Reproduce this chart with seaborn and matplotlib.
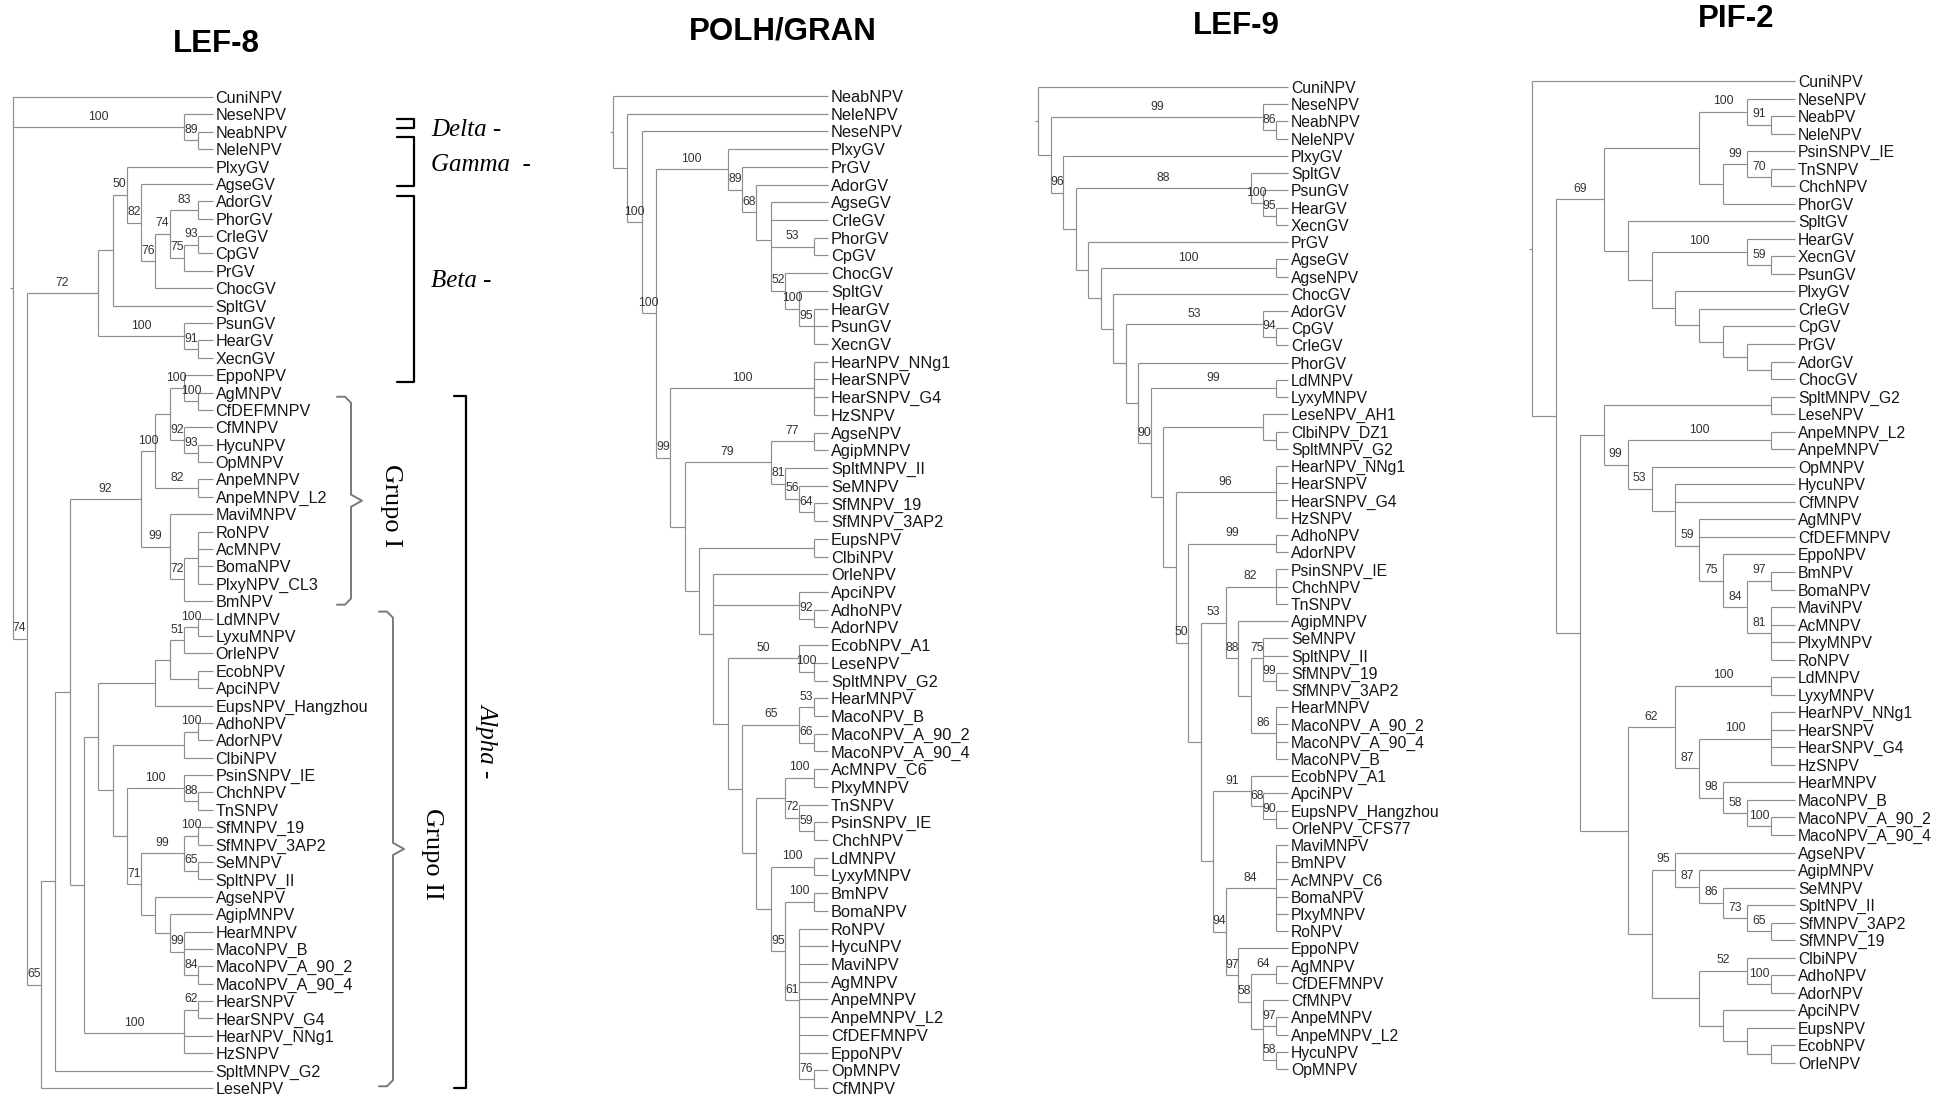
# %%
import matplotlib
matplotlib.use("Agg")
import matplotlib.pyplot as plt
from matplotlib import font_manager
import seaborn as sns
import numpy as np

# %%
# Tree topologies as Newick strings, bootstrap support written as internal node labels
lef8_delta = "(NeseNPV,(NeabNPV,NeleNPV)89)100"
lef8_beta = ("(((PlxyGV,(AgseGV,(((AdorGV,PhorGV)83,((CrleGV,CpGV)93,PrGV)75)74,ChocGV)76)82)50,SpltGV),"
             "(PsunGV,(HearGV,XecnGV)91)100)72")
lef8_grupo1 = ("((((EppoNPV,(AgMNPV,CfDEFMNPV)100)100,(CfMNPV,(HycuNPV,OpMNPV)93)92),(AnpeMNPV,AnpeMNPV_L2)82)100,"
               "(MaviMNPV,((RoNPV,AcMNPV,BomaNPV,PlxyNPV_CL3),BmNPV)72)99)92")
lef8_grupo2 = ("((((((LdMNPV,LyxuMNPV)100,OrleNPV)51,(EcobNPV,ApciNPV)),EupsNPV_Hangzhou),"
               "(((AdhoNPV,AdorNPV)100,ClbiNPV),((PsinSNPV_IE,(ChchNPV,TnSNPV)88)100,"
               "(((SfMNPV_19,SfMNPV_3AP2)100,(SeMNPV,SpltNPV_II)65)99,"
               "(AgseNPV,(AgipMNPV,(HearMNPV,MacoNPV_B,(MacoNPV_A_90_2,MacoNPV_A_90_4)84)99)))71))),"
               "((HearSNPV,HearSNPV_G4)62,HearNPV_NNg1,HzSNPV)100)")
lef8_tree = (f"(CuniNPV,{lef8_delta},({lef8_beta},"
             f"((({lef8_grupo1},{lef8_grupo2}),SpltMNPV_G2),LeseNPV)65)74);")

polh_gv = ("(PlxyGV,(PrGV,(AdorGV,(AgseGV,CrleGV,(PhorGV,CpGV)53,"
           "(ChocGV,(SpltGV,(HearGV,PsunGV,XecnGV)95)100)52))68)89)100")
polh_npv = ("((HearNPV_NNg1,HearSNPV,HearSNPV_G4,HzSNPV)100,"
            "(((AgseNPV,AgipMNPV)77,(SpltMNPV_II,(SeMNPV,(SfMNPV_19,SfMNPV_3AP2)64)56)81)79,"
            "((EupsNPV,ClbiNPV),(OrleNPV,(ApciNPV,(AdhoNPV,AdorNPV)92),"
            "((EcobNPV_A1,(LeseNPV,SpltMNPV_G2)100)50,"
            "(((HearMNPV,MacoNPV_B)53,(MacoNPV_A_90_2,MacoNPV_A_90_4)66)65,"
            "(((AcMNPV_C6,PlxyMNPV)100,(TnSNPV,(PsinSNPV_IE,ChchNPV)59)72),"
            "((LdMNPV,LyxyMNPV)100,((BmNPV,BomaNPV)100,"
            "(RoNPV,HycuNPV,MaviNPV,AgMNPV,AnpeMNPV,AnpeMNPV_L2,CfDEFMNPV,EppoNPV,(OpMNPV,CfMNPV)76)61)95))))))))99")
polh_tree = f"(NeabNPV,(NeleNPV,(NeseNPV,({polh_gv},{polh_npv})100)100));"

lef9_gv = ("(PlxyGV,((SpltGV,(PsunGV,(HearGV,XecnGV)95)100)88,(PrGV,((AgseGV,AgseNPV)100,"
           "(ChocGV,((AdorGV,(CpGV,CrleGV)94)53,(PhorGV,NPV_CLADE)))))))96")
lef9_npv = ("((LdMNPV,LyxyMNPV)99,((LeseNPV_AH1,(ClbiNPV_DZ1,SpltMNPV_G2)),"
            "((HearNPV_NNg1,HearSNPV,HearSNPV_G4,HzSNPV)96,((AdhoNPV,AdorNPV)99,"
            "(((PsinSNPV_IE,ChchNPV,TnSNPV)82,(AgipMNPV,((SeMNPV,SpltNPV_II,(SfMNPV_19,SfMNPV_3AP2)99)75,"
            "(HearMNPV,MacoNPV_A_90_2,MacoNPV_A_90_4,MacoNPV_B)86))88)53,"
            "((EcobNPV_A1,(ApciNPV,(EupsNPV_Hangzhou,OrleNPV_CFS77)90)68)91,"
            "((MaviMNPV,BmNPV,AcMNPV_C6,BomaNPV,PlxyMNPV,RoNPV)84,(EppoNPV,((AgMNPV,CfDEFMNPV)64,"
            "(CfMNPV,(AnpeMNPV,AnpeMNPV_L2)97,(HycuNPV,OpMNPV)58))58)97)94)))50)))90")
lef9_tree = "(CuniNPV,((NeseNPV,(NeabNPV,NeleNPV)86)99," + lef9_gv.replace("NPV_CLADE", lef9_npv) + "));"

pif2_upper = ("(((NeseNPV,(NeabPV,NeleNPV)91)100,((PsinSNPV_IE,(TnSNPV,ChchNPV)70)99,PhorGV)),"
              "(SpltGV,((HearGV,(XecnGV,PsunGV)59)100,(PlxyGV,(CrleGV,(CpGV,(PrGV,(AdorGV,ChocGV))))))))69")
pif2_group1 = ("((SpltMNPV_G2,LeseNPV),((AnpeMNPV_L2,AnpeMNPV)100,(OpMNPV,(HycuNPV,CfMNPV,"
               "(AgMNPV,CfDEFMNPV,(EppoNPV,((BmNPV,BomaNPV)97,(MaviNPV,AcMNPV,PlxyMNPV,RoNPV)81)84)75)59))53)99)")
pif2_group2 = ("(((LdMNPV,LyxyMNPV)100,((HearNPV_NNg1,HearSNPV,HearSNPV_G4,HzSNPV)100,"
               "(HearMNPV,(MacoNPV_B,(MacoNPV_A_90_2,MacoNPV_A_90_4)100)58)98)87)62,"
               "((AgseNPV,(AgipMNPV,(SeMNPV,(SpltNPV_II,(SfMNPV_3AP2,SfMNPV_19)65)73)86)87)95,"
               "((ClbiNPV,(AdhoNPV,AdorNPV)100)52,(ApciNPV,(EupsNPV,(EcobNPV,OrleNPV))))))")
pif2_tree = f"(CuniNPV,({pif2_upper},({pif2_group1},{pif2_group2})));"

titles = ["LEF-8", "POLH/GRAN", "LEF-9", "PIF-2"]
trees = [lef8_tree, polh_tree, lef9_tree, pif2_tree]

# clade annotations on the LEF-8 tree (label, first leaf row, last leaf row, label row)
clade_brackets = [("Delta -", 1.27, 1.78, 1.75), ("Gamma  -", 2.28, 5.12, 3.75),
                  ("Beta -", 5.69, 16.4, 10.45), ("Alpha -", 17.2, 57.0, 37.0)]
group_braces = [("Grupo I", 17.24, 29.2), ("Grupo II", 29.6, 56.9)]

# %%
# page layout (pixels of the 1950x1096 output)
W, H = 1950, 1096
panels = [
    dict(x_root=12.5, x_tip=212.5, y_first=97, y_last=1088, fs=11.6, title_xy=(216, 44)),
    dict(x_root=613, x_tip=828, y_first=96, y_last=1088, fs=11.8, title_xy=(783, 31)),
    dict(x_root=1038, x_tip=1288, y_first=87, y_last=1069, fs=11.3, title_xy=(1236, 26)),
    dict(x_root=1532, x_tip=1795, y_first=81, y_last=1063, fs=11.3, title_xy=(1736, 19)),
]
LINE = "#8e8e8e"
TEXT = "#161616"


def parse_newick(text):
    text = text.strip().rstrip(";")
    pos = 0

    def read_label():
        nonlocal pos
        start = pos
        while pos < len(text) and text[pos] not in ",()":
            pos += 1
        return text[start:pos].strip()

    def read_node():
        nonlocal pos
        if text[pos] == "(":
            pos += 1
            kids = [read_node()]
            while text[pos] == ",":
                pos += 1
                kids.append(read_node())
            assert text[pos] == ")", text[pos:pos + 30]
            pos += 1
            return {"kids": kids, "support": read_label()}
        return {"name": read_label()}

    tree = read_node()
    assert pos == len(text), text[pos:]
    return tree


def set_heights(node):
    if "kids" in node:
        node["h"] = max(set_heights(k) for k in node["kids"]) + 1
    else:
        node["h"] = 0
    return node["h"]


def place(node, depth, leaves):
    # cladogram: x = depth - height, y = mean of children rows
    node["x"] = depth - node["h"]
    if "kids" in node:
        for k in node["kids"]:
            place(k, depth, leaves)
        node["y"] = np.mean([k["y"] for k in node["kids"]])
    else:
        node["y"] = len(leaves)
        leaves.append(node)


def draw_tree(ax, node, parent_x=None):
    if "kids" not in node:
        return
    ys = [k["y"] for k in node["kids"]]
    ax.vlines(node["x"], min(ys), max(ys), color=LINE, lw=0.85)
    for k in node["kids"]:
        ax.hlines(k["y"], node["x"], k["x"], color=LINE, lw=0.85)
        draw_tree(ax, k, node["x"])
    if node["support"] and parent_x is not None:
        ax.text((parent_x + node["x"]) / 2, node["y"] - 0.6, node["support"],
                ha="center", va="center", fontsize=8.7, color="#333333")


# %%
sns.set_theme(style="white")
plt.rcParams["font.family"] = ["Liberation Sans", "DejaVu Sans"]

available = {f.name for f in font_manager.fontManager.ttflist}
if "Liberation Sans Narrow" in available:
    title_font = dict(family=["Liberation Sans Narrow", "DejaVu Sans"], fontsize=28)
else:
    title_font = dict(family=["Liberation Sans", "DejaVu Sans"], fontsize=22.5)

fig = plt.figure(figsize=(W / 100, H / 100), dpi=100)
fig.patch.set_facecolor("white")

tree_axes = []
for i, (newick, title, lay) in enumerate(zip(trees, titles, panels)):
    root = parse_newick(newick)
    depth = set_heights(root)
    leaves = []
    place(root, depth, leaves)
    n = len(leaves)

    ax = fig.add_axes([0, 0, 1, 1], label=f"tree{i}")
    ax.set_axis_off()
    ax.patch.set_alpha(0)
    sx = (lay["x_tip"] - lay["x_root"]) / depth
    sy = (lay["y_last"] - lay["y_first"]) / (n - 1)
    ax.set_xlim(-lay["x_root"] / sx, (W - lay["x_root"]) / sx)
    ax.set_ylim((H - lay["y_first"]) / sy, -lay["y_first"] / sy)

    draw_tree(ax, root)
    ax.hlines(root["y"], -3 / sx, 0, color=LINE, lw=0.85)
    for leaf in leaves:
        ax.text(depth + 3 / sx, leaf["y"], leaf["name"], ha="left", va="center_baseline",
                fontsize=lay["fs"], color=TEXT)

    tx, ty = lay["title_xy"]
    fig.text(tx / W, 1 - ty / H, title, ha="center", va="center",
             fontweight="bold", color="black", **title_font)
    tree_axes.append((ax, lay, sx))

# %%
# brackets beside the LEF-8 tree
ax, lay, sx = tree_axes[0]


def lv(px):
    return (px - lay["x_root"]) / sx


serif = ["Liberation Serif", "DejaVu Serif"]
for label, top, bottom, row in clade_brackets:
    if label.startswith("Alpha"):
        x0, x1, tx = 454, 466, 487
        ax.plot([lv(x0), lv(x1), lv(x1), lv(x0)], [top, top, bottom, bottom], color="black", lw=1.6)
        ax.text(lv(tx), row, label, rotation=270, ha="center", va="center",
                family=serif, style="italic", fontsize=18, color="black")
    else:
        x0, x1, tx = 397, 414, 431
        ax.plot([lv(x0), lv(x1), lv(x1), lv(x0)], [top, top, bottom, bottom], color="black", lw=1.6)
        ax.text(lv(tx), row, label, ha="left", va="center_baseline", family=serif,
                style="italic", fontsize=18, color="black")

brace_x = {"Grupo I": (337, 351, 362, 391), "Grupo II": (379, 393, 404, 432)}
for label, top, bottom in group_braces:
    x0, x1, xt, tx = brace_x[label]
    mid = (top + bottom) / 2
    e = 0.35
    xs = [x0, x0 + 8, x1, x1, xt, x1, x1, x0 + 8, x0]
    ys = [top, top, top + e, mid - e, mid, mid + e, bottom - e, bottom, bottom]
    ax.plot([lv(v) for v in xs], ys, color="#7a7a7a", lw=1.4)
    ax.text(lv(tx), mid + 0.3, label, rotation=270, ha="center", va="center",
            family=serif, fontsize=19, color="black")

fig.savefig("out.png", dpi=100, facecolor="white")
